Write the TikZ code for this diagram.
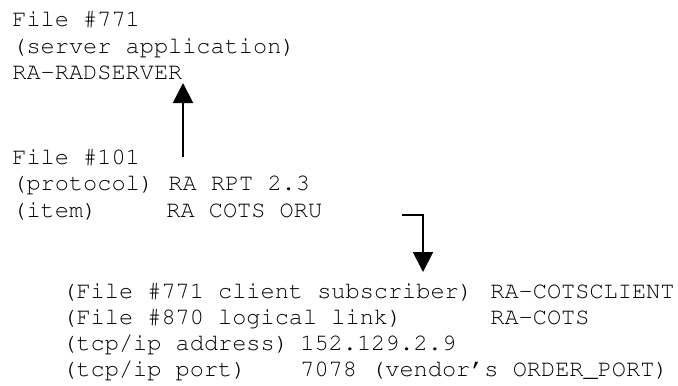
\documentclass[tikz,border=0pt]{standalone}
\usepackage[T1]{fontenc}
\usepackage{courier}
\usetikzlibrary{arrows.meta}

\tikzset{
  entry/.style={anchor=base west, inner sep=0pt, font=\ttfamily\fontsize{11.8}{13}\selectfont},
  flow/.style={line width=1pt, -{Triangle[width=10pt,length=10pt]}}
}

\begin{document}
\begin{tikzpicture}[x=0.5pt,y=-0.5pt]
        \useasboundingbox (0,0) rectangle (678,385);
        % Server application
        \node[entry] (srvfile) at (12,27) {File \#771};
        \node[entry] (srvapp) at (12,53.5) {(server application)};
        \node[entry] (radserver) at (12,80) {RA-RADSERVER};
        % Protocol
        \node[entry] (protofile) at (12,164) {File \#101};
        \node[entry] (protolbl) at (12,190.5) {(protocol)};
        \node[entry] (rpt) at (168,190.5) {RA RPT 2.3};
        \node[entry] (itemlbl) at (12,217) {(item)};
        \node[entry] (oru) at (166,217) {RA COTS ORU};
        % Client subscriber
        \node[entry] (sublbl) at (62,298) {(File \#771 client subscriber)};
        \node[entry] (cotsclient) at (490,298) {RA-COTSCLIENT};
        \node[entry] (linklbl) at (62,324) {(File \#870 logical link)};
        \node[entry] (cots) at (490,324) {RA-COTS};
        \node[entry] (addrlbl) at (62,350) {(tcp/ip address)};
        \node[entry] (addr) at (300,350) {152.129.2.9};
        \node[entry] (portlbl) at (62,376) {(tcp/ip port)};
        \node[entry] (port) at (300,376) {7078 (vendor's ORDER\_PORT)};
        % Arrows
        \coordinate (upstart) at (183,157);
        \coordinate (uptip) at (183,83);
        \coordinate (downstart) at (402,215);
        \coordinate (downtip) at (423,272);
        \draw[flow] (upstart) -- (uptip);
        \draw[flow] (downstart) -| (downtip);
    \end{tikzpicture}
\end{document}
